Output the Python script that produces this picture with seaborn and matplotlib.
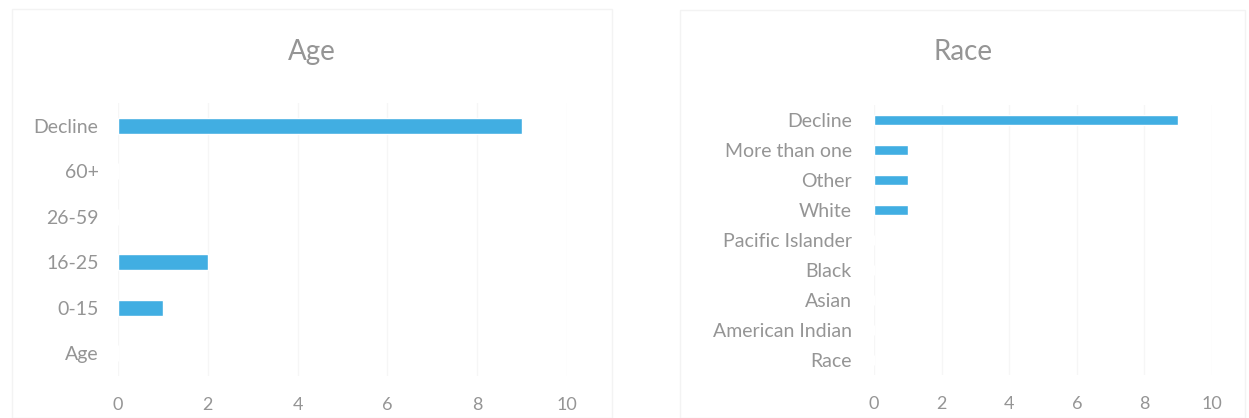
import matplotlib
matplotlib.use("Agg")
import matplotlib.pyplot as plt
from matplotlib.patches import Rectangle
import seaborn as sns
import pandas as pd

# Survey counts, listed top to bottom as shown on each panel
age_labels = ["Decline", "60+", "26-59", "16-25", "0-15", "Age"]
age_counts = [9, 0, 0, 2, 1, 0]

race_labels = ["Decline", "More than one", "Other", "White", "Pacific Islander",
               "Black", "Asian", "American Indian", "Race"]
race_counts = [9, 1, 1, 1, 0, 0, 0, 0, 0]

x_ticks = [0, 2, 4, 6, 8, 10]

BAR = "#41aee2"
TEXT = "#959595"
GRID = "#f6f6f6"
FRAME = "#f3f3f3"

sns.set_theme(style="white")
plt.rcParams["font.family"] = ["Lato", "DejaVu Sans"]

fig = plt.figure(figsize=(12.49, 4.18), dpi=100)
W, H = 1249, 418


def px_axes(x0, y0, x1, y1):
    return fig.add_axes([x0 / W, 1 - y1 / H, (x1 - x0) / W, (y1 - y0) / H])


def draw_panel(ax, labels, counts, bar_width, ypad, xpad, ysize):
    df = pd.DataFrame({"label": labels, "count": counts})
    sns.barplot(data=df, y="label", x="count", order=labels, orient="h",
                color=BAR, width=bar_width, saturation=1, ax=ax)
    ax.set_xlim(0, 10)
    ax.set_xticks(x_ticks)
    ax.set_ylim(len(labels) - 0.5, -0.5)
    ax.set_xlabel("")
    ax.set_ylabel("")
    ax.xaxis.grid(True, color=GRID, linewidth=1)
    ax.set_axisbelow(True)
    for s in ax.spines.values():
        s.set_visible(False)
    ax.tick_params(axis="y", length=0, pad=ypad, labelsize=ysize, labelcolor=TEXT)
    ax.tick_params(axis="x", length=0, pad=xpad, labelsize=13, labelcolor=TEXT)
    ax.set_facecolor("none")


# Panel frames
fig.patches.append(Rectangle((12 / W, 0), (612 - 12) / W, 1 - 9 / H,
                             transform=fig.transFigure, fill=False,
                             edgecolor=FRAME, linewidth=1))
fig.patches.append(Rectangle((680 / W, 0), (1245 - 680) / W, 1 - 10 / H,
                             transform=fig.transFigure, fill=False,
                             edgecolor=FRAME, linewidth=1))

ax_age = px_axes(118, 103, 567, 376)
draw_panel(ax_age, age_labels, age_counts, 0.35, 14, 15, 14)

ax_race = px_axes(874, 105, 1212, 375)
draw_panel(ax_race, race_labels, race_counts, 0.34, 16, 15, 14)

fig.text(312 / W, 1 - 52 / H, "Age", ha="center", va="center",
         fontsize=20, color=TEXT)
fig.text(963 / W, 1 - 52 / H, "Race", ha="center", va="center",
         fontsize=20, color=TEXT)

fig.savefig("out.png", dpi=100, facecolor="white")
